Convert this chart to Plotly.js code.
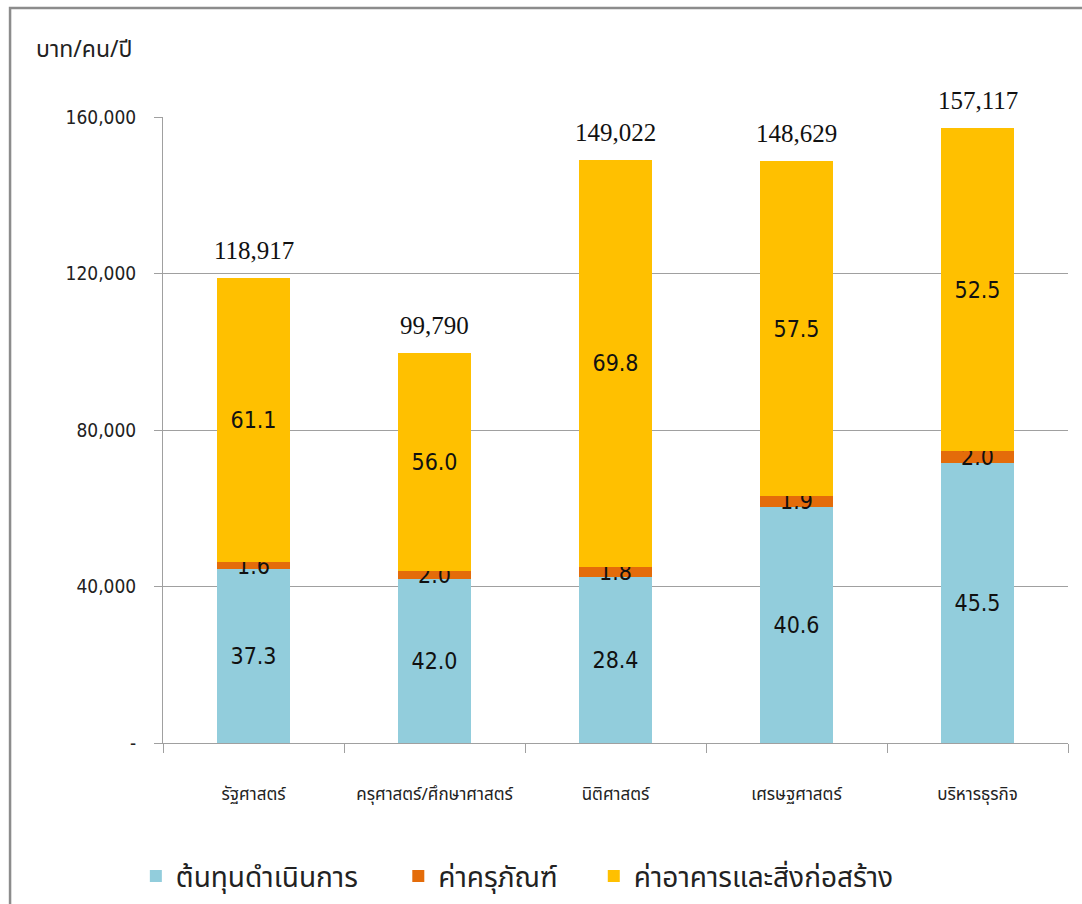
<!DOCTYPE html>
<html>
<head>
<meta charset="utf-8">
<script src="https://cdn.plot.ly/plotly-3.0.1.min.js"></script>
<style>html,body{margin:0;padding:0;background:#fff;}#chart{width:1082px;height:904px;}</style>
</head>
<body>
<div id="chart"></div>
<script>
// Categories (faculties)
const categories = ["รัฐศาสตร์", "ครุศาสตร์/ศึกษาศาสตร์", "นิติศาสตร์", "เศรษฐศาสตร์", "บริหารธุรกิจ"];
// Series names
const seriesNames = ["ต้นทุนดำเนินการ", "ค่าครุภัณฑ์", "ค่าอาคารและสิ่งก่อสร้าง"];
// Values in baht per person per year
const operatingCost = [44356, 41912, 42322, 60343, 71488];
const equipmentCost = [1903, 1996, 2682, 2824, 3142];
const buildingCost  = [72658, 55882, 104017, 85462, 82486];
// Percent labels shown inside the segments
const operatingPct = ["37.3", "42.0", "28.4", "40.6", "45.5"];
const equipmentPct = ["1.6", "2.0", "1.8", "1.9", "2.0"];
const buildingPct  = ["61.1", "56.0", "69.8", "57.5", "52.5"];
// Totals shown above the bars
const totals = [118917, 99790, 149022, 148629, 157117];
const totalLabels = ["118,917", "99,790", "149,022", "148,629", "157,117"];
// Y axis ticks
const yTickVals = [0, 40000, 80000, 120000, 160000];
const yTickText = ["-", "40,000", "80,000", "120,000", "160,000"];

const colors = ["#92CDDC", "#E46C0A", "#FFC000"];
const thaiFont = "Noto Sans Thai, Loma, Garuda, Norasi, Tlwg Typist, sans-serif";
const numFont = "Liberation Sans Narrow, DejaVu Sans Condensed, Liberation Sans, Arial, sans-serif";

const seriesValues = [operatingCost, equipmentCost, buildingCost];
const seriesText = [operatingPct, equipmentPct, buildingPct];
const legendIds = ["legend", "legend2", "legend3"];

const traces = seriesValues.map((vals, i) => ({
  type: "bar",
  name: seriesNames[i],
  legend: legendIds[i],
  x: categories,
  y: vals,
  text: seriesText[i],
  textposition: "inside",
  insidetextanchor: "middle",
  constraintext: "none",
  textfont: {family: numFont, size: 23, color: "#111"},
  marker: {color: colors[i]},
  hoverinfo: "x+y+name"
}));

const annotations = categories.map((c, i) => ({
  x: c, y: totals[i], xref: "x", yref: "y",
  text: totalLabels[i], showarrow: false,
  yanchor: "bottom", yshift: 12,
  font: {family: "Liberation Serif, Times New Roman, serif", size: 25, color: "#111"}
}));
annotations.push({
  xref: "paper", yref: "paper", x: -0.143, y: 1.107,
  xanchor: "left", yanchor: "middle", showarrow: false,
  text: "บาท/คน/ปี",
  font: {family: thaiFont, size: 23, color: "#222"}
});

const legendBase = {
  orientation: "h", xanchor: "left", yanchor: "middle", y: -0.213,
  font: {family: thaiFont, size: 28, color: "#222"},
  bgcolor: "rgba(0,0,0,0)", itemwidth: 30
};

const layout = {
  width: 1082, height: 904,
  margin: {l: 163, r: 14, t: 117, b: 161, autoexpand: false},
  paper_bgcolor: "#fff", plot_bgcolor: "#fff",
  barmode: "stack",
  bargap: 0.6,
  showlegend: true,
  legend: Object.assign({}, legendBase, {x: -0.03}),
  legend2: Object.assign({}, legendBase, {x: 0.26}),
  legend3: Object.assign({}, legendBase, {x: 0.476}),
  xaxis: {
    type: "category", automargin: false,
    showline: true, linecolor: "#a0a0a0", linewidth: 1,
    ticks: "outside", tickson: "boundaries", ticklen: 9, tickcolor: "#a0a0a0",
    tickangle: 0,
    ticklabelstandoff: 36,
    tickfont: {family: thaiFont, size: 17, color: "#222"},
    showgrid: false, zeroline: false
  },
  yaxis: {
    range: [0, 160000], automargin: false,
    tickvals: yTickVals, ticktext: yTickText,
    showline: true, linecolor: "#a0a0a0", linewidth: 1,
    ticks: "outside", ticklen: 8, tickcolor: "#a0a0a0",
    ticklabelstandoff: 14,
    tickfont: {family: numFont, size: 19, color: "#222"},
    showgrid: true, gridcolor: "#a0a0a0", gridwidth: 1,
    zeroline: false
  },
  shapes: [{
    type: "rect", xref: "paper", yref: "paper",
    x0: -0.169, x1: 1.05, y0: -0.3, y1: 1.174,
    line: {color: "#8c8c8c", width: 2.5}, fillcolor: "rgba(0,0,0,0)", layer: "below"
  }],
  annotations: annotations
};

Plotly.newPlot("chart", traces, layout, {displayModeBar: false, staticPlot: true});
</script>
</body>
</html>
